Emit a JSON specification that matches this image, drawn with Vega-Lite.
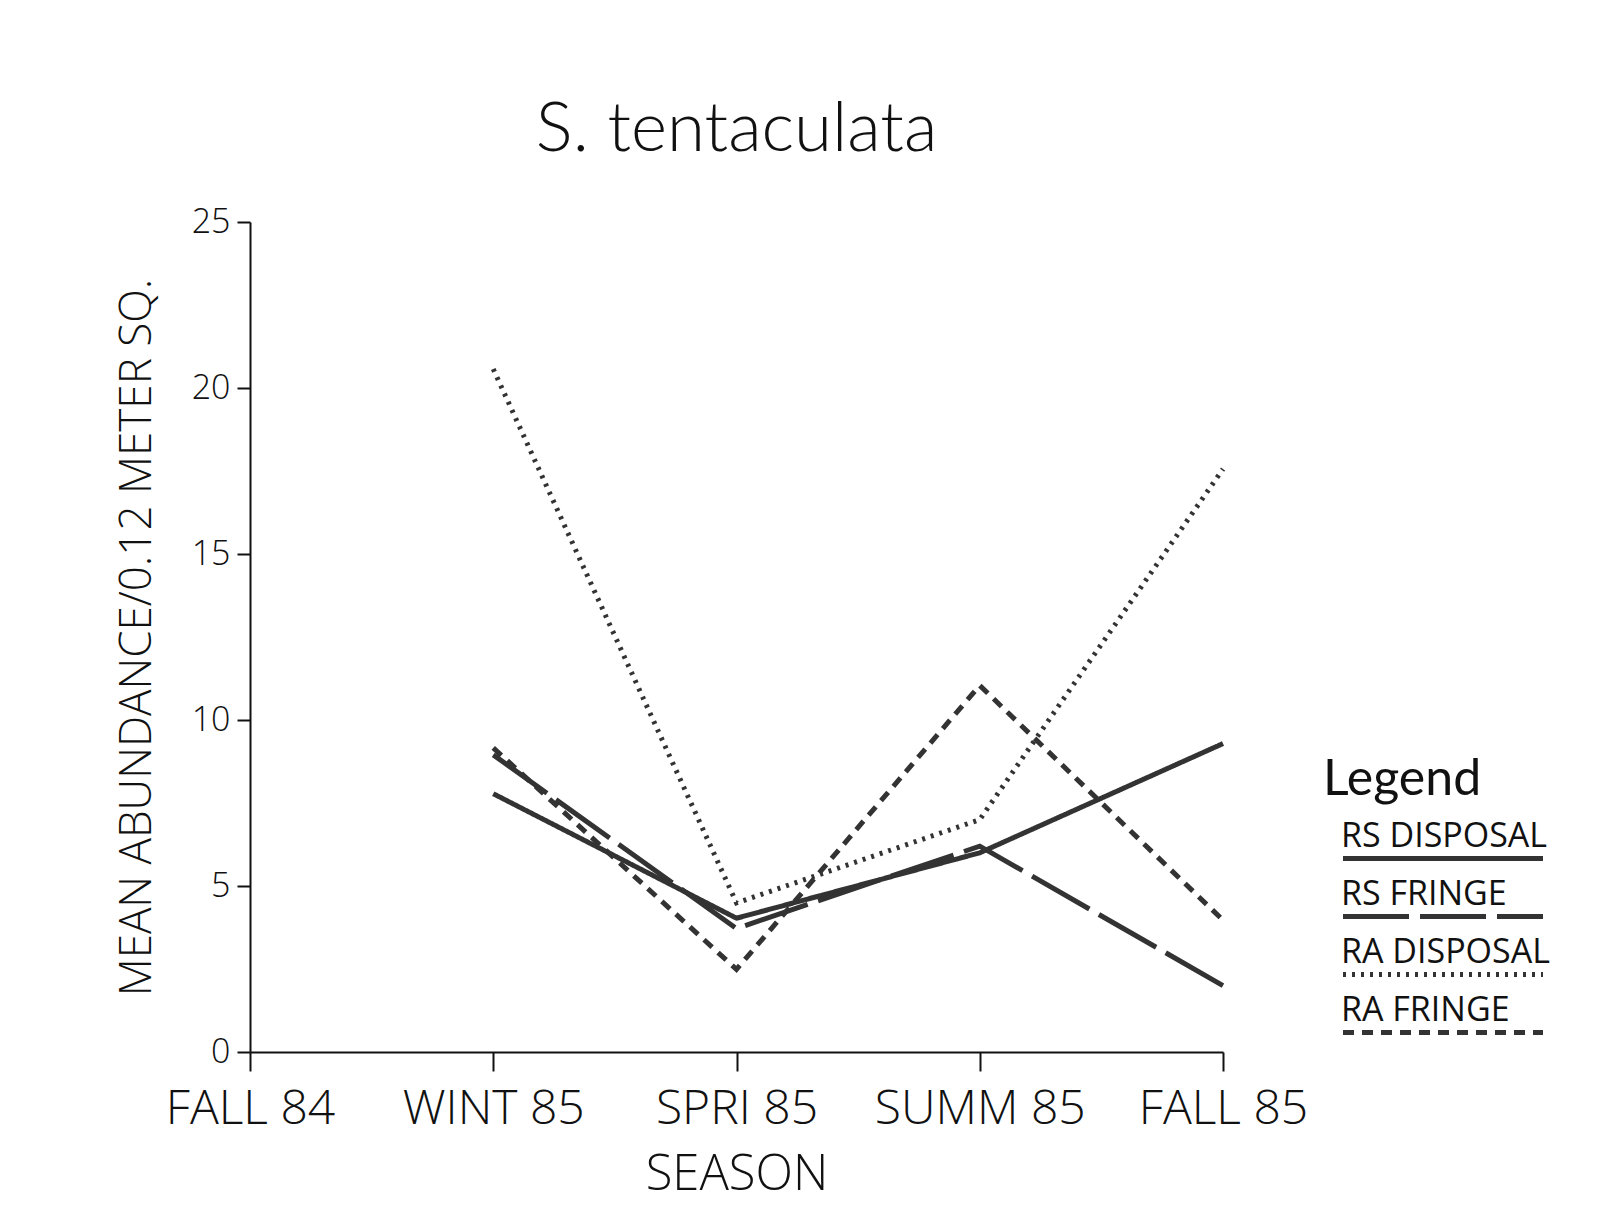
{
  "$schema": "https://vega.github.io/schema/vega-lite/v6.json",
  "width": 973,
  "height": 830,
  "autosize": {"type": "none"},
  "padding": {"left": 250, "top": 222, "right": 377, "bottom": 179},
  "background": "white",
  "title": {"text": "S. tentaculata", "font": "Lato", "fontWeight": 300, "fontSize": 69, "color": "#111111", "offset": 40, "anchor": "middle"},
  "data": {"values": [
    {"series": "RS DISPOSAL", "season": "WINT 85", "value": 7.78},
    {"series": "RS DISPOSAL", "season": "SPRI 85", "value": 4.03},
    {"series": "RS DISPOSAL", "season": "SUMM 85", "value": 6.0},
    {"series": "RS DISPOSAL", "season": "FALL 85", "value": 9.29},
    {"series": "RS FRINGE", "season": "WINT 85", "value": 8.95},
    {"series": "RS FRINGE", "season": "SPRI 85", "value": 3.72},
    {"series": "RS FRINGE", "season": "SUMM 85", "value": 6.2},
    {"series": "RS FRINGE", "season": "FALL 85", "value": 2.0},
    {"series": "RA DISPOSAL", "season": "WINT 85", "value": 20.57},
    {"series": "RA DISPOSAL", "season": "SPRI 85", "value": 4.49},
    {"series": "RA DISPOSAL", "season": "SUMM 85", "value": 7.0},
    {"series": "RA DISPOSAL", "season": "FALL 85", "value": 17.56},
    {"series": "RA FRINGE", "season": "WINT 85", "value": 9.16},
    {"series": "RA FRINGE", "season": "SPRI 85", "value": 2.49},
    {"series": "RA FRINGE", "season": "SUMM 85", "value": 11.04},
    {"series": "RA FRINGE", "season": "FALL 85", "value": 3.97}
  ]},
  "mark": {"type": "line", "strokeCap": "butt", "strokeJoin": "miter", "color": "#333333"},
  "encoding": {
    "x": {
      "field": "season", "type": "ordinal", "title": "SEASON",
      "scale": {"type": "point", "domain": ["FALL 84", "WINT 85", "SPRI 85", "SUMM 85", "FALL 85"], "padding": 0},
      "axis": {"labelAngle": 0, "labelFontSize": 48, "labelLimit": 400, "tickSize": 19, "labelPadding": 14, "titleFontSize": 49, "titleY": 137, "titleBaseline": "alphabetic", "titleFontWeight": 300}
    },
    "y": {
      "field": "value", "type": "quantitative", "title": "MEAN ABUNDANCE/0.12 METER SQ.",
      "scale": {"domain": [0, 25], "nice": false},
      "axis": {"values": [0, 5, 10, 15, 20, 25], "labelFontSize": 34, "tickSize": 13, "labelPadding": 7, "titleFontSize": 44, "titleX": -100, "titleY": 415, "titleAngle": -90, "titleBaseline": "alphabetic", "titleAlign": "center", "titleFontWeight": 300}
    },
    "strokeDash": {
      "field": "series", "type": "nominal",
      "scale": {"domain": ["RS DISPOSAL", "RS FRINGE", "RA DISPOSAL", "RA FRINGE"], "range": [[1, 0], [66, 11], [3, 6], [11, 8]]},
      "legend": {
        "orient": "none", "legendX": 1073, "legendY": 533, "padding": 0,
        "title": "Legend", "titleFont": "Lato", "titleFontSize": 50, "titleFontWeight": "normal", "titleColor": "#111111", "titlePadding": 31,
        "labelFont": "Open Sans", "labelFontSize": 34, "labelFontWeight": 400, "labelColor": "#111111", "labelBaseline": "bottom", "labelOffset": -124.5, "labelLimit": 400,
        "symbolOffset": 97.5, "symbolType": "M-5,0H5", "symbolSize": 1600, "symbolStrokeColor": "#333333", "symbolStrokeWidth": 4, "rowPadding": 8,
        "encode": {"labels": {"update": {"dy": {"value": -5}}}}
      }
    },
    "strokeWidth": {
      "field": "series", "type": "nominal",
      "scale": {"domain": ["RS DISPOSAL", "RS FRINGE", "RA DISPOSAL", "RA FRINGE"], "range": [5, 5, 3.5, 6]}
    }
  },
  "config": {
    "view": {"stroke": null},
    "axis": {"grid": false, "domainColor": "#111111", "domainWidth": 2, "tickColor": "#111111", "tickWidth": 2, "labelFont": "Open Sans", "titleFont": "Open Sans", "labelFontWeight": 300, "labelColor": "#111111", "titleColor": "#111111"}
  }
}
